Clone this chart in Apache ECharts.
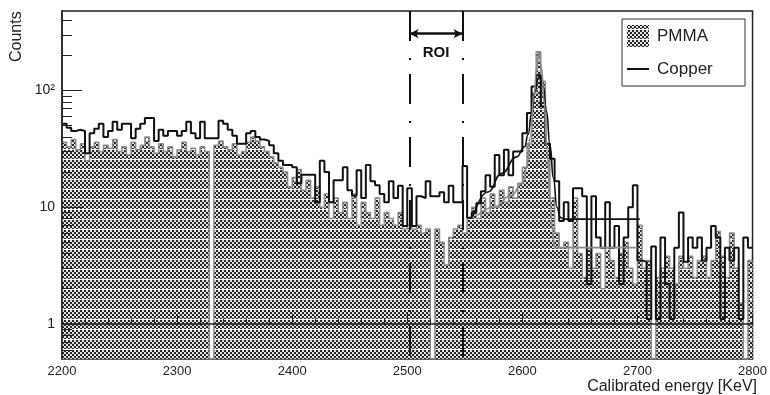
<!DOCTYPE html>
<html lang="en">
<head>
  <meta charset="UTF-8">
  <title>Calibrated energy spectrum</title>
  <script src="https://cdn.jsdelivr.net/npm/echarts@6/dist/echarts.min.js"></script>
</head>
<body style="margin:0">
  <div id="chart" style="width: 770px; height: 395px;"></div>
  <script>
    // histogram bins: 4 keV wide, starting at 2200 keV
    const binLow = 2200
    const binWidth = 4

    // counts per bin
    const copper = [
      52, 48, 45, 46, 45, 29, 43, 47, 52, 40,
      45, 54, 46, 52, 52, 39, 47, 52, 58, 58,
      37, 46, 41, 45, 45, 41, 45, 54, 43, 39,
      54, 39, 39, 39, 55, 52, 46, 41, 35, 35,
      43, 45, 40, 38, 37, 34, 29, 25, 23, 23,
      22, 16, 19, 19, 19, 11, 25, 20, 11, 17,
      17, 22, 14, 12.6, 20.7, 12, 23, 16.7, 15.4, 13,
      11, 16.7, 12, 15.3, 6.9, 14.5, 6.9, 12.4, 12, 16.7,
      12.4, 12.4, 13.4, 11, 15.3, 11, 11, 22.5, 8.1, 9,
      10.8, 13.7, 18.8, 15, 28, 18.8, 31, 18.8, 30, 30,
      43, 64, 108, 135, 73, 35, 26, 16.7, 7.6, 11,
      7.6, 14.5, 14.5, 12.4, 2.2, 12.4, 5.5, 4.5, 11, 4.5,
      6.9, 2.2, 5.5, 10, 15.4, 3.5, 3.4, 1.1, 4.6, 1.1,
      5.5, 2.2, 1.1, 4.5, 9, 3.4, 5.5, 4.5, 5.5, 3.5,
      4.5, 6.9, 5.5, 1.1, 4.5, 3.5, 4.5, 1.1, 5.5, 4.5
    ]
    const pmma = [
      36, 33, 38, 31, 35, 25, 33, 36, 30, 34,
      32, 38, 30, 33, 28, 36, 31, 34, 40, 33,
      29, 35, 30, 33, 27, 31, 36, 30, 32, 28,
      33, 30, 0, 34, 37, 33, 31, 35, 28, 30,
      36, 40, 37, 33, 30, 27, 24, 22, 20, 15,
      18, 21, 14, 17, 12, 15, 10, 13, 8, 12,
      9, 11, 8, 13, 7, 11, 9, 8, 12, 7,
      9, 8, 7, 9, 6.5, 7, 6.5, 7, 6, 6.5,
      0, 6.5, 5, 3.2, 5.5, 6.5, 7, 6, 8, 10,
      8, 12, 9, 13, 10, 14, 11, 15, 12, 16,
      22, 35, 95, 215, 120, 35, 12, 6, 4.5, 5,
      3, 12, 4, 2.5, 4.5, 3, 4, 2, 4.5, 3.5,
      2.5, 4, 5, 3, 2.2, 7, 3, 3.5, 0, 2.5,
      3, 3.8, 3, 2.2, 3.8, 3, 3.8, 2.5, 3.5, 3.8,
      2.5, 3.5, 6.2, 3.8, 2.5, 6, 3, 1.5, 0, 3.5
    ]

    // fitted curves [energy, counts]
    const copperFit = [
      [2557, 8.3], [2570, 13.5], [2582, 19.5], [2595, 27], [2602, 33],
      [2605, 42], [2608, 63], [2611, 98], [2613.5, 125], [2616, 130],
      [2618, 110], [2621, 66], [2624, 34], [2627, 17.7], [2630, 10],
      [2633, 8.2], [2636, 7.9], [2702, 7.9]
    ]
    const pmmaFit = [
      [2561, 8.5], [2575, 10], [2590, 12.5], [2600, 16], [2604, 22],
      [2607, 40], [2610, 90], [2612.5, 160], [2614.5, 210], [2616.5, 160],
      [2619, 80], [2621.5, 30], [2624, 12], [2626, 6.5], [2628, 4.5],
      [2700, 4.5]
    ]

    const roi = [2502, 2548]
    const majorTicks = [1, 10, 100]
    const minorTicks = [0.6, 0.7, 0.8, 0.9, 2, 3, 4, 5, 6, 7, 8, 9,
      20, 30, 40, 50, 60, 70, 80, 90, 200, 300, 400]
    const majorLabels = ['1', '10', '10²']

    const font = 'Liberation Sans, Arial, sans-serif'
    const yMin = Math.log10(0.5)
    const yMax = Math.log10(480)
    const lg = v => v > 0 ? Math.log10(v) : yMin

    // points on bin edges, last value repeated at the upper edge
    function steps(vals) {
      const pts = vals.map((v, i) => [binLow + i * binWidth, lg(v)])
      pts.push([binLow + vals.length * binWidth, lg(vals[vals.length - 1])])
      return pts
    }

    // checkered fill like the printed PMMA histogram
    const pat = document.createElement('canvas')
    pat.width = 4
    pat.height = 10
    const pctx = pat.getContext('2d')
    for (let y = 0; y < 10; y++) {
      for (let x = 0; x < 4; x++) {
        pctx.fillStyle = y === 9 ? '#ffffff' : ((x >> 1) + (y >> 1)) % 2 ? '#e0e0e0' : '#262626'
        pctx.fillRect(x, y, 1, 1)
      }
    }
    const checker = { image: pat, repeat: 'repeat' }

    const chart = echarts.init(document.getElementById('chart'))

    const yArrow = 2.487

    const option = {
      animation: false,
      textStyle: { fontFamily: font },
      grid: {
        left: 62, right: 13, top: 11, bottom: 36,
        show: true, borderColor: '#222', borderWidth: 1.5, backgroundColor: '#fff'
      },
      xAxis: {
        type: 'value', min: 2200, max: 2800, interval: 100, z: 5,
        axisLine: { lineStyle: { color: '#222', width: 1.5 } },
        axisTick: { inside: true, length: 10, lineStyle: { color: '#222' } },
        minorTick: { show: true, splitNumber: 5, length: 5, lineStyle: { color: '#222' } },
        axisLabel: { color: '#222', fontSize: 13, margin: 6, fontFamily: font, formatter: v => String(v) },
        splitLine: { show: false }
      },
      yAxis: [
        {
          type: 'value', min: yMin, max: yMax, position: 'left', z: 5,
          axisLine: { show: true, lineStyle: { color: '#222', width: 1.5 } },
          axisTick: { inside: true, length: 20, customValues: majorTicks.map(Math.log10), lineStyle: { color: '#222' } },
          axisLabel: {
            color: '#222', fontSize: 14, margin: 7, fontFamily: font,
            customValues: majorTicks.map(Math.log10),
            formatter: v => majorLabels[Math.round(v)]
          },
          splitLine: { show: false }
        },
        {
          type: 'value', min: yMin, max: yMax, position: 'left', z: 5,
          axisLine: { show: false },
          axisTick: { inside: true, length: 10, customValues: minorTicks.map(Math.log10), lineStyle: { color: '#222' } },
          axisLabel: { show: false },
          splitLine: { show: false }
        }
      ],
      series: [
        {
          name: 'PMMA', type: 'line', step: 'end', showSymbol: false,
          data: steps(pmma),
          lineStyle: { color: '#8c8c8c', width: 1.5 },
          areaStyle: { color: checker, opacity: 1, origin: 'start' }
        },
        {
          name: 'Copper', type: 'line', step: 'end', showSymbol: false,
          data: steps(copper),
          lineStyle: { color: '#111', width: 2 },
          markLine: {
            silent: true, symbol: 'none', animation: false,
            lineStyle: { color: '#111', width: 2, type: [30, 17, 2, 14] },
            label: { show: false },
            data: roi.map(e => [{ coord: [e, yMax] }, { coord: [e, yMin] }])
          }
        },
        {
          name: 'Copper fit', type: 'line', smooth: true, smoothMonotone: 'x', showSymbol: false,
          data: copperFit.map(p => [p[0], lg(p[1])]),
          lineStyle: { color: '#111', width: 1.6 }
        },
        {
          name: 'PMMA fit', type: 'line', smooth: true, smoothMonotone: 'x', showSymbol: false,
          data: pmmaFit.map(p => [p[0], lg(p[1])]),
          lineStyle: { color: '#8c8c8c', width: 1.6 },
          markLine: {
            silent: true, symbol: ['arrow', 'arrow'], symbolSize: [7, 9], animation: false,
            lineStyle: { color: '#111', width: 2.5, type: 'solid' },
            label: {
              show: true, formatter: 'ROI', position: 'insideMiddleBottom', distance: 12,
              color: '#111', fontSize: 15, fontWeight: 'bold', fontFamily: font
            },
            data: [[{ coord: [roi[0], yArrow] }, { coord: [roi[1], yArrow] }]]
          }
        }
      ],
      graphic: [
        {
          type: 'text', x: 25, y: 62, rotation: Math.PI / 2,
          style: { text: 'Counts', fontSize: 16, fontFamily: font, fill: '#222', align: 'left', verticalAlign: 'bottom' }
        },
        {
          type: 'text', x: 757, y: 387,
          style: { text: 'Calibrated energy [KeV]', fontSize: 16, fontFamily: font, fill: '#222', align: 'right', verticalAlign: 'middle' }
        },
        {
          type: 'rect', shape: { x: 622, y: 19, width: 123, height: 67 },
          style: { fill: '#fff', stroke: '#333', lineWidth: 1 }, z: 10
        },
        {
          type: 'rect', shape: { x: 627, y: 25, width: 22, height: 22 },
          style: { fill: checker }, z: 11
        },
        {
          type: 'line', shape: { x1: 627, y1: 69, x2: 649, y2: 69 },
          style: { stroke: '#111', lineWidth: 2 }, z: 11
        },
        {
          type: 'text', x: 657, y: 36, z: 11,
          style: { text: 'PMMA', fontSize: 17, fontFamily: font, fill: '#222', verticalAlign: 'middle' }
        },
        {
          type: 'text', x: 657, y: 69, z: 11,
          style: { text: 'Copper', fontSize: 17, fontFamily: font, fill: '#222', verticalAlign: 'middle' }
        }
      ]
    }

    chart.setOption(option)
  </script>
</body>
</html>
